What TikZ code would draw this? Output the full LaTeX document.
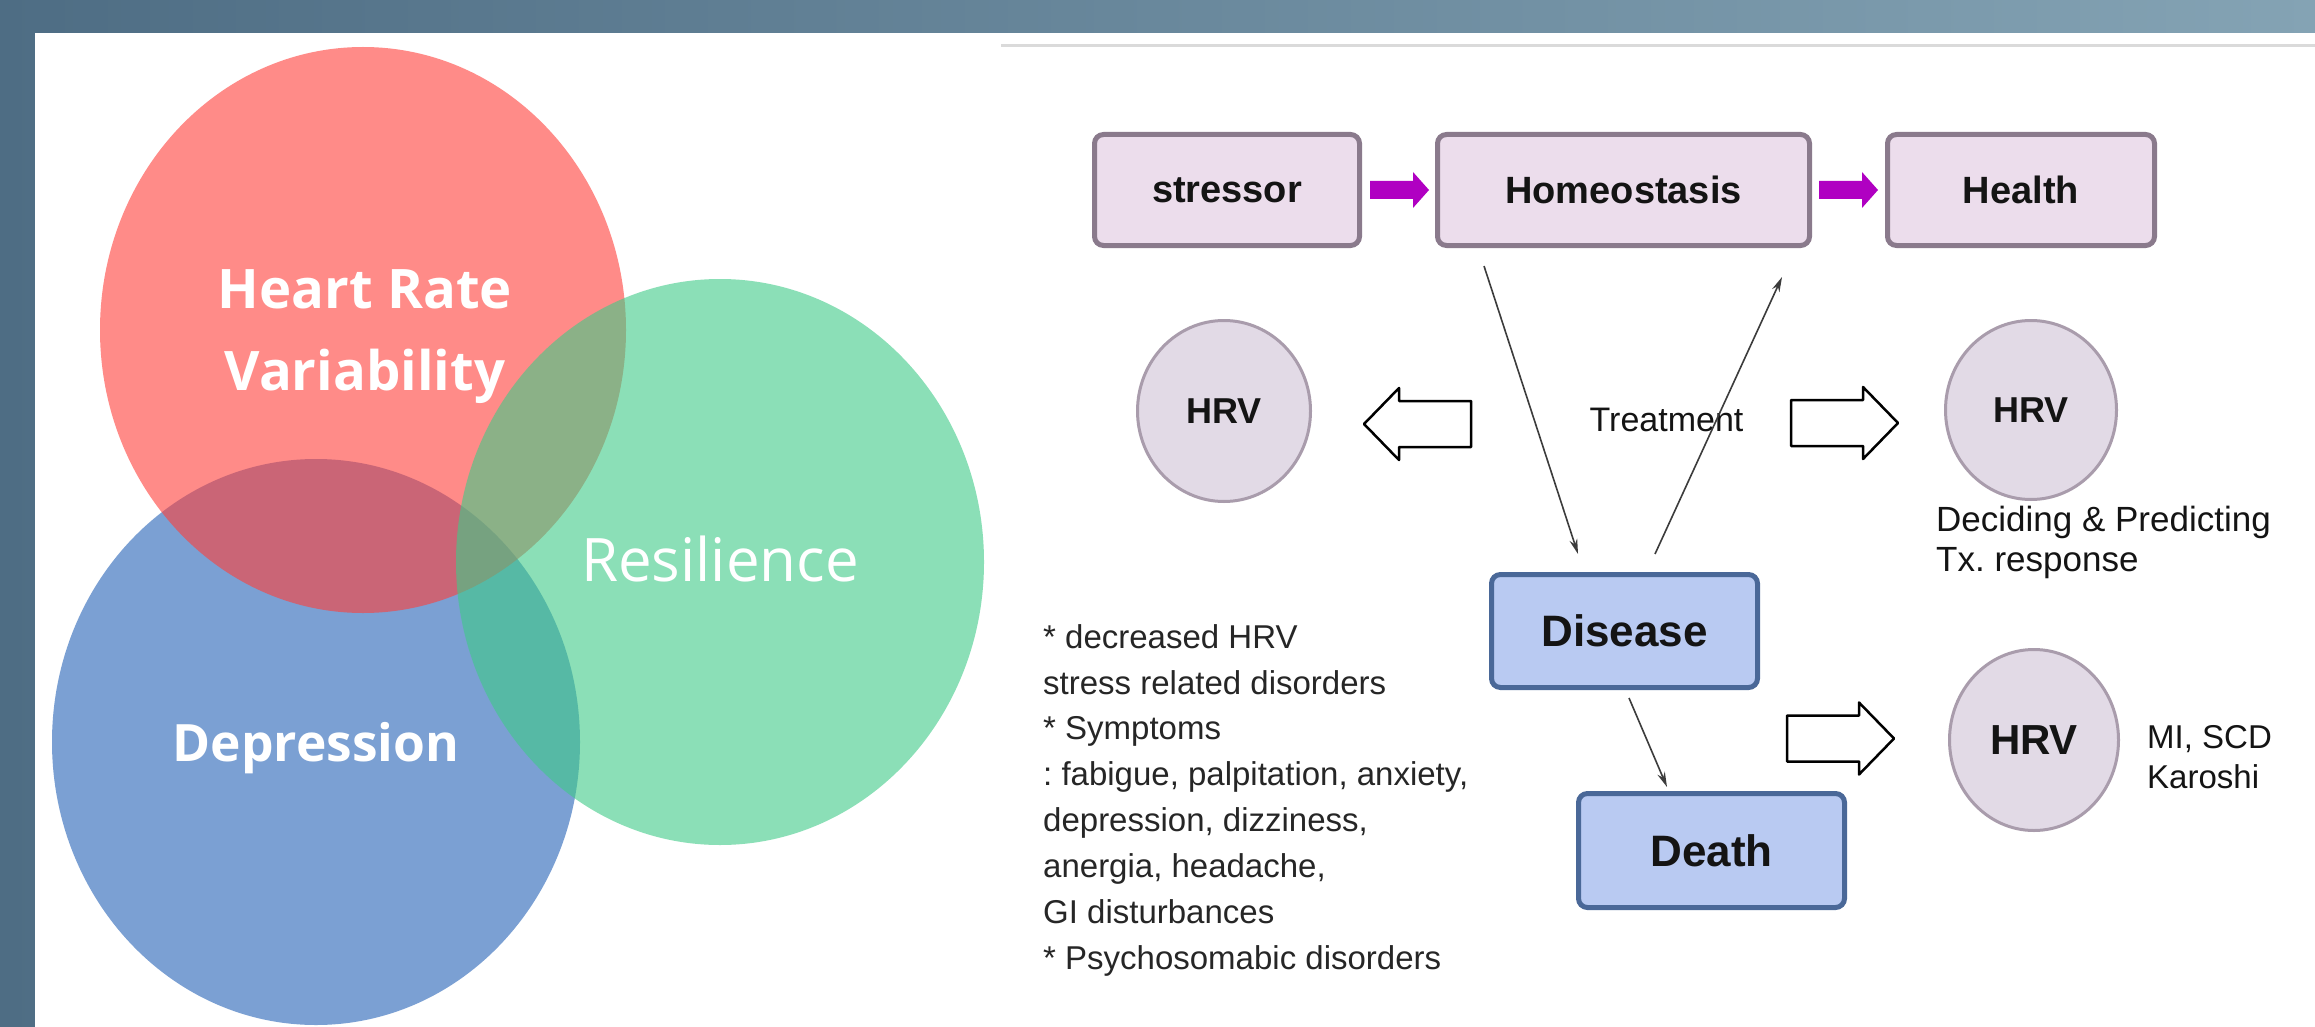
\documentclass[tikz,border=0pt]{standalone}
\usepackage{fontspec}
\setmainfont{Liberation Sans}
\newfontfamily\vennfont{Open Sans}
\usetikzlibrary{shapes.geometric,arrows.meta,calc}
\frenchspacing

\definecolor{bandL}{HTML}{4E6D84}
\definecolor{bandR}{HTML}{84A3B4}
\definecolor{rulegray}{HTML}{DADADA}
\definecolor{vred}{RGB}{255,62,57}
\definecolor{vblue}{RGB}{35,97,182}
\definecolor{vgreen}{RGB}{62,203,135}
\definecolor{boxedge}{HTML}{8A7A8C}
\definecolor{boxfill}{HTML}{ECDDEC}
\definecolor{stateedge}{HTML}{4A6898}
\definecolor{statefill}{HTML}{B9CAF2}
\definecolor{hrvedge}{HTML}{A99CAC}
\definecolor{hrvfill}{HTML}{E2DAE6}
\definecolor{arrowpurple}{HTML}{B000C2}
\definecolor{linegray}{HTML}{3C3C3C}
\definecolor{inktext}{HTML}{141414}

\begin{document}
\begin{tikzpicture}[x=1pt,y=-1pt,
  vennlabel/.style={text=white, inner sep=0pt, align=center},
  procbox/.style={draw=boxedge, fill=boxfill, line width=5pt, rounded corners=9pt,
    minimum width=#1, minimum height=111pt, inner sep=0pt, text=inktext,
    font=\bfseries\fontsize{38}{44}\selectfont},
  statebox/.style={draw=stateedge, fill=statefill, line width=5pt, rounded corners=9pt,
    minimum width=266pt, minimum height=113pt, inner sep=0pt, text=inktext,
    font=\bfseries\fontsize{44}{50}\selectfont},
  hrvnode/.style={ellipse, draw=hrvedge, fill=hrvfill, line width=3pt, inner sep=0pt,
    text=inktext, font=\bfseries\fontsize{#1}{#1}\selectfont},
  plainlabel/.style={inner sep=0pt, text=inktext, align=left},
  thinarrow/.style={draw=linegray, line width=1.6pt, -{Stealth[length=15pt,width=8pt]}},
  pics/fatarrow/.style={code={
    \fill[arrowpurple] (0,-9) -- (43,-9) -- (43,-18) -- (59,0) -- (43,18) -- (43,9) -- (0,9) -- cycle;}},
  pics/hollowarrow/.style={code={
    \filldraw[fill=white, draw=black, line width=2.5pt, line join=round]
      (0,-23) -- (72,-23) -- (72,-36) -- (107,0) -- (72,36) -- (72,23) -- (0,23) -- cycle;}}
]
\useasboundingbox (0,0) rectangle (2315,1027);

% slate frame and white panels
\shade[left color=bandL, right color=bandR] (0,0) rectangle (2315,1027);
\fill[white] (35,33) rectangle (2315,1027);
\draw[rulegray, line width=3pt] (1001,46) -- (2315,46);

% Venn diagram
\begin{scope}
  \clip (35,33) rectangle (1001,1027);
  \fill[vblue, fill opacity=.6] (316,742) ellipse [x radius=264pt, y radius=283pt];
  \fill[vred, fill opacity=.6] (363,330) ellipse [x radius=263pt, y radius=283pt];
  \fill[vgreen, fill opacity=.6] (720,562) ellipse [x radius=264pt, y radius=283pt];
\end{scope}
\node[vennlabel, font=\vennfont\bfseries\fontsize{54.5}{82}\selectfont] (hrvtitle) at (365,337) {Heart Rate\\Variability};
\node[vennlabel, font=\vennfont\fontsize{60}{70}\selectfont] (resil) at (720,559) {Resilience};
\node[vennlabel, font=\vennfont\bfseries\fontsize{51.5}{60}\selectfont] (depr) at (316,748) {Depression};

% process row
\node[procbox=265pt] (stressor) at (1227,190) {stressor};
\node[procbox=372pt] (homeo) at (1623.5,190) {Homeostasis};
\node[procbox=267pt] (health) at (2021,190) {Health};
\pic at ([xshift=8pt]stressor.east) {fatarrow};
\pic at ([xshift=7pt]homeo.east) {fatarrow};

% outcome boxes
\node[statebox] (disease) at (1624.5,631) {Disease};
\node[statebox, minimum height=114pt] (death) at (1711.5,850.5) {Death};

% HRV markers
\node[hrvnode=36, minimum width=173pt, minimum height=181pt] (hrvL) at (1224,411) {HRV};
\node[hrvnode=36, minimum width=171pt, minimum height=179pt] (hrvR) at (2031,410) {HRV};
\node[hrvnode=42, minimum width=169pt, minimum height=181pt] (hrvD) at (2034,740) {HRV};

% block arrows
\pic[xscale=-1] at (1471,424) {hollowarrow};
\pic at (1791,423) {hollowarrow};
\pic at (1787,738.5) {hollowarrow};

% labels
\node[plainlabel, font=\fontsize{34}{40}\selectfont] (treat) at (1666.5,420) {Treatment};
\node[plainlabel, anchor=north west, font=\fontsize{35}{40}\selectfont] (decide) at (1936,506)
  {Deciding \& Predicting\\Tx. response};
\node[plainlabel, anchor=north west, font=\fontsize{33}{40}\selectfont] (mi) at (2147,725)
  {MI, SCD\\Karoshi};
\node[plainlabel, anchor=north west, text=black!85, font=\fontsize{33}{45.9}\selectfont] (notes) at (1043,624)
  {* decreased HRV\\stress related disorders\\* Symptoms\\: fabigue, palpitation, anxiety,\\depression, dizziness,\\anergia, headache,\\GI disturbances\\* Psychosomabic disorders};

% connectors
\draw[thinarrow] ([xshift=49pt,yshift=-18pt]homeo.south west) -- ([xshift=89pt,yshift=18pt]disease.north west);
\draw[thinarrow] ([xshift=166pt,yshift=18pt]disease.north west) -- ([xshift=-30pt,yshift=-29pt]homeo.south east);
\draw[thinarrow] ([xshift=140pt,yshift=-8pt]disease.south west) -- ([xshift=91pt,yshift=4pt]death.north west);
\end{tikzpicture}
\end{document}
